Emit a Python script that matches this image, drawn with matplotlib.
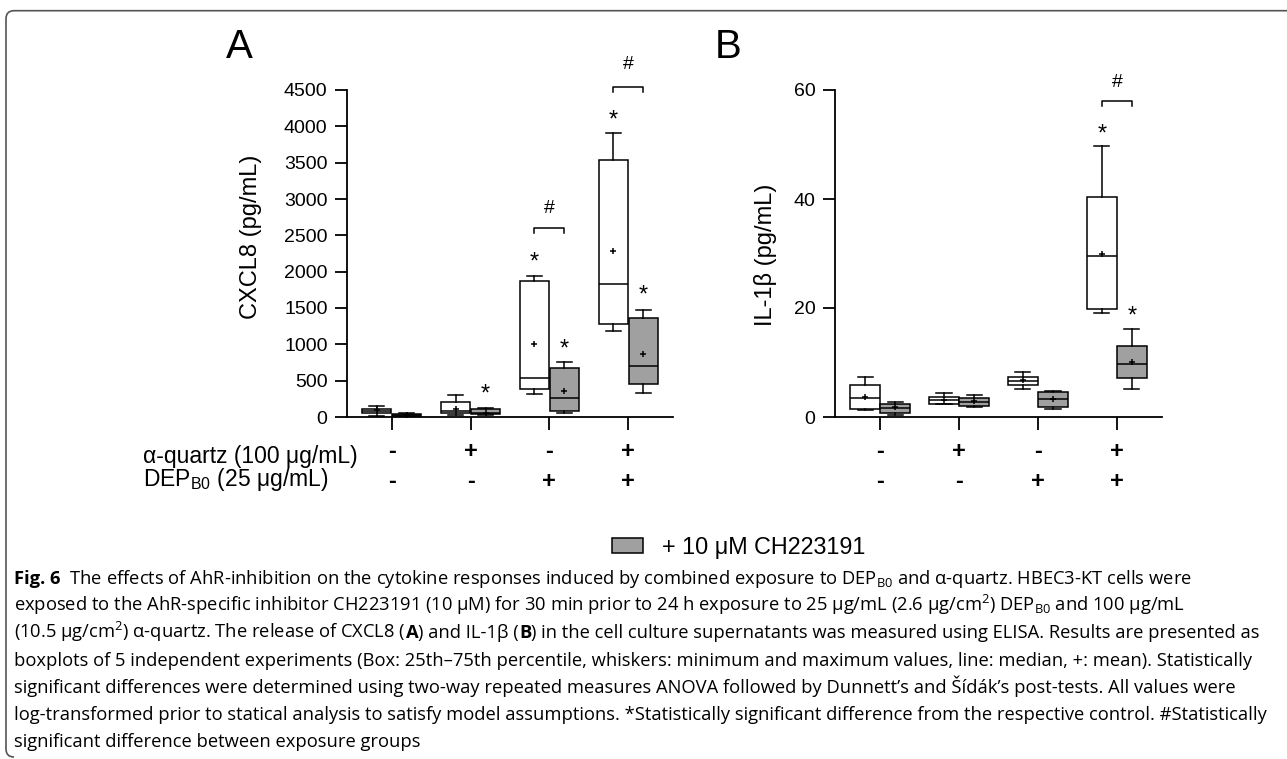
import matplotlib
matplotlib.use("Agg")
import matplotlib.pyplot as plt
from matplotlib.patches import Rectangle, PathPatch
from matplotlib.path import Path
from matplotlib import transforms

plt.rcParams['font.family'] = ['Liberation Sans', 'DejaVu Sans']
plt.rcParams['mathtext.default'] = 'regular'

W, H = 1287, 759

groups = [0, 1, 2, 3]
quartz_row = ['-', '+', '-', '+']
dep_row = ['-', '-', '+', '+']

# CXCL8 (pg/mL), open boxes = exposure alone
cx_ctrl_min = [10, 30, 320, 1190]
cx_ctrl_q1 = [55, 50, 380, 1275]
cx_ctrl_med = [85, 80, 535, 1830]
cx_ctrl_q3 = [115, 200, 1875, 3540]
cx_ctrl_max = [145, 305, 1945, 3910]
cx_ctrl_mean = [90, 115, 1010, 2290]
# CXCL8, grey boxes = + 10 uM CH223191
cx_inh_min = [5, 30, 50, 330]
cx_inh_q1 = [15, 35, 85, 450]
cx_inh_med = [25, 60, 265, 700]
cx_inh_q3 = [40, 110, 680, 1360]
cx_inh_max = [50, 130, 760, 1475]
cx_inh_mean = [28, 55, 360, 870]

# IL-1beta (pg/mL)
il_ctrl_min = [1.2, 2.3, 5.2, 19.0]
il_ctrl_q1 = [1.5, 2.45, 5.95, 19.9]
il_ctrl_med = [3.4, 3.1, 6.6, 29.5]
il_ctrl_q3 = [5.8, 3.7, 7.35, 40.3]
il_ctrl_max = [7.4, 4.4, 8.3, 49.7]
il_ctrl_mean = [3.6, 3.2, 6.7, 30.0]
il_inh_min = [0.45, 1.8, 1.5, 5.2]
il_inh_q1 = [0.75, 2.0, 1.85, 7.2]
il_inh_med = [1.7, 2.75, 3.25, 9.8]
il_inh_q3 = [2.45, 3.4, 4.5, 13.0]
il_inh_max = [2.75, 4.0, 4.8, 16.1]
il_inh_mean = [1.8, 2.9, 3.3, 10.1]

# significance marks: (group, which box, y)
cx_stars = [(1, +1, 413), (2, -1, 2230), (2, +1, 1036), (3, -1, 4188), (3, +1, 1775)]
cx_brackets = [(2, 2600, 2910), (3, 4540, 4885)]
il_stars = [(3, -1, 53.3), (3, +1, 19.9)]
il_brackets = [(3, 58.0, 61.8)]

caption = [
    [("Fig. 6", "bold"), ("  The effects of AhR-inhibition on the cytokine responses induced by combined exposure to DEP$_{B0}$ and α-quartz. HBEC3-KT cells were", "normal")],
    [("exposed to the AhR-specific inhibitor CH223191 (10 μM) for 30 min prior to 24 h exposure to 25 μg/mL (2.6 μg/cm$^{2}$) DEP$_{B0}$ and 100 μg/mL", "normal")],
    [("(10.5 μg/cm$^{2}$) α-quartz. The release of CXCL8 (", "normal"), ("A", "bold"), (") and IL-1β (", "normal"), ("B", "bold"),
     (") in the cell culture supernatants was measured using ELISA. Results are presented as", "normal")],
    [("boxplots of 5 independent experiments (Box: 25th–75th percentile, whiskers: minimum and maximum values, line: median, +: mean). Statistically", "normal")],
    [("significant differences were determined using two-way repeated measures ANOVA followed by Dunnett’s and Šídák’s post-tests. All values were", "normal")],
    [("log-transformed prior to statical analysis to satisfy model assumptions. *Statistically significant difference from the respective control. #Statistically", "normal")],
    [("significant difference between exposure groups", "normal")],
]

OFF = 0.19
BOXW = 0.37
GREY = '#a0a0a0'


def make_stats(lo, q1, med, q3, hi, mean):
    return [dict(whislo=a, q1=b, med=c, q3=d, whishi=e, mean=f)
            for a, b, c, d, e, f in zip(lo, q1, med, q3, hi, mean)]


def fx(px):
    return px / W


def fy(py):
    return 1 - py / H


def draw_panel(ax, ctrl, inh, ymax, yticks, ylabel, stars, brackets, bdrop):
    for st, shift, fc in [(ctrl, -OFF, 'white'), (inh, OFF, GREY)]:
        ax.bxp(st, positions=[g + shift for g in groups], widths=BOXW, capwidths=0.19,
               showmeans=True, showfliers=False, patch_artist=True, manage_ticks=False,
               boxprops=dict(facecolor=fc, edgecolor='black', linewidth=1.1),
               whiskerprops=dict(color='black', linewidth=1.1),
               capprops=dict(color='black', linewidth=1.1),
               medianprops=dict(color='black', linewidth=1.1),
               meanprops=dict(marker='+', markeredgecolor='black', markersize=5, markeredgewidth=1.1))
    ax.set_xlim(-0.57, 3.57)
    ax.set_ylim(0, ymax)
    ax.set_yticks(yticks)
    ax.set_xticks(groups)
    ax.set_xticklabels([])
    for s in ['top', 'right']:
        ax.spines[s].set_visible(False)
    for s in ['left', 'bottom']:
        ax.spines[s].set_linewidth(1.3)
    ax.tick_params(axis='both', direction='out', length=9, width=1.3, labelsize=14)
    ax.tick_params(axis='y', pad=5)
    ax.set_ylabel(ylabel, fontsize=17)

    for g, side, y in stars:
        ax.annotate('*', (g + side * OFF, y), xytext=(0, -0.58 * 17), textcoords='offset points',
                    ha='center', va='baseline', fontsize=17, annotation_clip=False)
    for g, yb, yh in brackets:
        ax.plot([g - OFF, g - OFF, g + OFF, g + OFF], [yb - bdrop, yb, yb, yb - bdrop],
                color='black', lw=1.1, clip_on=False)
        ax.annotate('#', (g, yh), xytext=(0, -0.36 * 14), textcoords='offset points',
                    ha='center', va='baseline', fontsize=14, annotation_clip=False)

    tr = transforms.blended_transform_factory(ax.transData, fig.transFigure)
    for g, q, d in zip(groups, quartz_row, dep_row):
        ax.text(g, fy(458), q, transform=tr, ha='center', va='baseline', fontsize=17, fontweight='bold')
        ax.text(g, fy(488), d, transform=tr, ha='center', va='baseline', fontsize=17, fontweight='bold')


fig = plt.figure(figsize=(W / 100, H / 100), dpi=100)

axA = fig.add_axes([fx(347), fy(417), fx(326), 327 / H])
axB = fig.add_axes([fx(835), fy(417), fx(327), 327 / H])

draw_panel(axA, make_stats(cx_ctrl_min, cx_ctrl_q1, cx_ctrl_med, cx_ctrl_q3, cx_ctrl_max, cx_ctrl_mean),
           make_stats(cx_inh_min, cx_inh_q1, cx_inh_med, cx_inh_q3, cx_inh_max, cx_inh_mean),
           4500, range(0, 4501, 500), 'CXCL8 (pg/mL)', cx_stars, cx_brackets, 70)
draw_panel(axB, make_stats(il_ctrl_min, il_ctrl_q1, il_ctrl_med, il_ctrl_q3, il_ctrl_max, il_ctrl_mean),
           make_stats(il_inh_min, il_inh_q1, il_inh_med, il_inh_q3, il_inh_max, il_inh_mean),
           60, [0, 20, 40, 60], 'IL-1β (pg/mL)', il_stars, il_brackets, 0.9)
axA.yaxis.set_label_coords(-0.26, 0.552)
axB.yaxis.set_label_coords(-0.177, 0.495)

fig.text(fx(226), fy(58), 'A', fontsize=29, va='baseline')
fig.text(fx(715), fy(58), 'B', fontsize=29, va='baseline')

fig.text(fx(143), fy(463), 'α-quartz (100 μg/mL)', fontsize=16.5, va='baseline')
fig.text(fx(143), fy(486), 'DEP$_{B0}$ (25 μg/mL)', fontsize=16.5, va='baseline')

# legend
fig.add_artist(Rectangle((fx(612), fy(553)), fx(31), 15 / H, transform=fig.transFigure,
                         facecolor=GREY, edgecolor='black', lw=1.1))
fig.text(fx(662), fy(554), '+ 10 μM CH223191', fontsize=16.8, va='baseline')

# caption
renderer = fig.canvas.get_renderer()
cap_font = ['Open Sans', 'DejaVu Sans']
y0 = 584
for i, line in enumerate(caption):
    x = 14
    for seg, weight in line:
        t = fig.text(fx(x), fy(y0 + i * 27.2), seg, fontsize=13.2, family=cap_font,
                     fontweight=weight, va='baseline', ha='left')
        x += t.get_window_extent(renderer).width

# frame: top and left edges with rounded corners
r = 8
lx, ty, by = 6, 10.7, 757
verts = [(W, ty), (lx + r, ty), (lx, ty), (lx, ty + r), (lx, by - r), (lx, by), (lx + r, by)]
codes = [Path.MOVETO, Path.LINETO, Path.CURVE3, Path.CURVE3, Path.LINETO, Path.CURVE3, Path.CURVE3]
path = Path([(fx(a), fy(b)) for a, b in verts], codes)
fig.add_artist(PathPatch(path, transform=fig.transFigure, facecolor='none', edgecolor='#555555', lw=1.2))

fig.savefig('out.png', dpi=100)
